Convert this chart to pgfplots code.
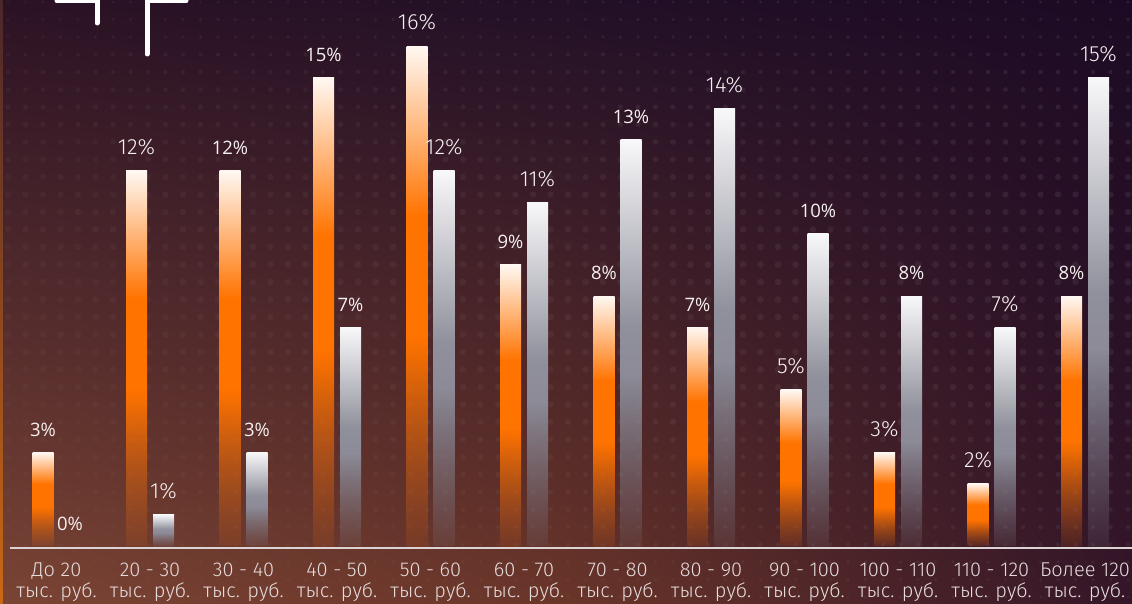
\documentclass[border=0pt]{standalone}
\usepackage{pgfplots}
\pgfplotsset{compat=1.18}
\usepackage{pgfplotstable}
\usepackage{fontspec}
\setmainfont{Open Sans}
\newfontfamily\lightf{Fira Sans Light}
\usetikzlibrary{fadings,shadings}

\definecolor{bgTL}{HTML}{2B1224}
\definecolor{bgTM}{HTML}{221027}
\definecolor{bgTR}{HTML}{1C0A24}
\definecolor{bgBL}{HTML}{7A4434}
\definecolor{bgBM}{HTML}{6A3529}
\definecolor{bgBR}{HTML}{341628}
\definecolor{oTop}{HTML}{FFF8F2}
\definecolor{oMid}{HTML}{FF7300}
\definecolor{oBot}{HTML}{D05E14}
\definecolor{gTop}{HTML}{F8F8FA}
\definecolor{gMid}{HTML}{90909C}
\definecolor{gBot}{HTML}{7C7884}
\definecolor{labc}{HTML}{F6F0F0}
\definecolor{tickc}{HTML}{E6DCDC}
\definecolor{linec}{HTML}{DCD4D4}

\pgfdeclareverticalshading{obar}{100bp}{color(0bp)=(oBot); color(25bp)=(oBot); color(44bp)=(oMid); color(58bp)=(oMid); color(75bp)=(oTop); color(100bp)=(oTop)}
\pgfdeclareverticalshading{gbar}{100bp}{color(0bp)=(gBot); color(25bp)=(gBot); color(52bp)=(gMid); color(75bp)=(gTop); color(100bp)=(gTop)}
% opaque in the upper part of a bar, fading out towards its foot
\pgfdeclareverticalshading{fadeshade}{100bp}{color(0bp)=(pgftransparent!85); color(25bp)=(pgftransparent!85); color(46bp)=(pgftransparent!0); color(100bp)=(pgftransparent!0)}
\pgfdeclarefading{barfade}{\pgfuseshading{fadeshade}}

% x = category, y = percent, b = bold label
\pgfplotstableread{
x y b
0 3 1
1 12 0
2 12 1
3 15 1
4 16 0
5 9 1
6 8 1
7 7 1
8 5 0
9 3 0
10 2 0
11 8 1
}\orangedata

\pgfplotstableread{
x y b
0 0 1
1 1 0
2 3 1
3 7 1
4 12 0
5 11 0
6 13 1
7 14 0
8 10 1
9 8 1
10 7 0
11 15 0
}\greydata

\newcommand\lablight{\lightf\fontsize{22}{22}\selectfont}
\newcommand\labbold{\fontsize{18.5}{18.5}\selectfont}

\pgfplotsset{
  pctlabels/.style={
    ybar, bar width=21pt, draw=none, fill=none,
    visualization depends on={\thisrow{b} \as \bflag},
    nodes near coords={\ifdim\bflag pt>0.5pt\relax\labbold\else\lablight\fi\pgfmathprintnumber{\pgfplotspointmeta}\%},
    nodes near coords style={anchor=base, yshift=16pt, xshift=#1, text=labc, inner sep=0pt},
  },
  obarstyle/.style={ybar, bar width=21pt, bar shift=-13.5pt, draw=none, shading=obar, shade, path fading=barfade},
  gbarstyle/.style={ybar, bar width=21pt, bar shift=13.5pt, draw=none, shading=gbar, shade, path fading=barfade},
}

\begin{document}
\begin{tikzpicture}
\useasboundingbox (0,0) rectangle (1132pt,603pt);
\shade[upper left=bgTL, upper right=bgTM, lower left=bgBL, lower right=bgBM] (0,0) rectangle (566pt,603pt);
\shade[upper left=bgTM, upper right=bgTR, lower left=bgBM, lower right=bgBR] (566pt,0) rectangle (1132pt,603pt);
\shade[top color=bgTL!60!bgBL, bottom color=orange!60!bgBL] (0,0) rectangle (2.5pt,603pt);
% dotted texture
\foreach \i in {0,...,64} {
  \foreach \j in {0,...,34} {
    \pgfmathsetmacro\op{0.015+0.04*\i/64+0.025*\j/34}
    \pgfmathsetmacro\rr{1.6+1.8*sin(180*\j/34)}
    \fill[white, opacity=\op] (\i*17.5pt+8pt, \j*17.5pt+6pt) circle (\rr pt);
  }
}
% logo fragment
\draw[white, line width=5pt, line cap=round, line join=round] (57pt,602pt) -- (97pt,602pt) -- (97pt,580pt);
\draw[white, line width=5pt, line cap=round, line join=round] (147pt,549pt) -- (147pt,602pt) -- (186pt,602pt);

\begin{axis}[
  at={(9.75pt,57pt)}, anchor=south west, scale only axis,
  width=1122pt, height=531.25pt,
  xmin=-0.5, xmax=11.5, ymin=0, ymax=17,
  axis line style={draw=none},
  ymajorticks=false, major tick length=0pt,
  /pgf/number format/assume math mode=true,
  xtick={0,...,11},
  xticklabels={{До 20\\тыс. руб.},{20 - 30\\тыс. руб.},{30 - 40\\тыс. руб.},{40 - 50\\тыс. руб.},{50 - 60\\тыс. руб.},{60 - 70\\тыс. руб.},{70 - 80\\тыс. руб.},{80 - 90\\тыс. руб.},{90 - 100\\тыс. руб.},{100 - 110\\тыс. руб.},{110 - 120\\тыс. руб.},{Более 120\\тыс. руб.}},
  xticklabel style={align=center, text=tickc, yshift=-13.5pt, font=\lightf\fontsize{20}{21}\selectfont},
  clip=false,
]
\pgfplotsinvokeforeach{0,...,11}{
  \addplot[obarstyle, restrict expr to domain={\coordindex}{#1:#1}] table[x=x, y=y] {\orangedata};
}
\pgfplotsinvokeforeach{1,...,11}{
  \addplot[gbarstyle, restrict expr to domain={\coordindex}{#1:#1}] table[x=x, y=y] {\greydata};
}
\addplot[pctlabels=-13.5pt, bar shift=-13.5pt] table[x=x, y=y] {\orangedata};
\addplot[pctlabels=13.5pt, bar shift=13.5pt] table[x=x, y=y] {\greydata};
\end{axis}
\draw[linec, line width=2pt] (10pt,55pt) -- (1132pt,55pt);
\end{tikzpicture}
\end{document}
